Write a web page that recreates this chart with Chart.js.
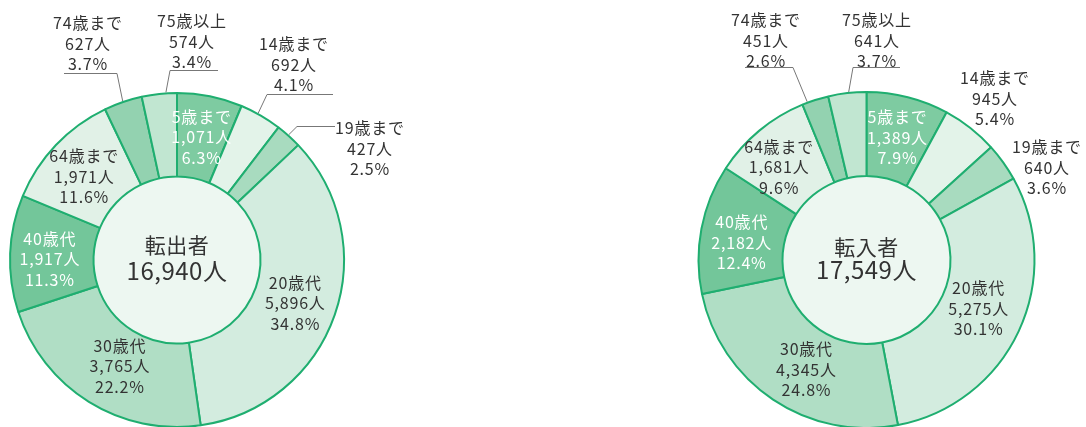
<!DOCTYPE html>
<html><head><meta charset="utf-8">
<script src="https://cdn.jsdelivr.net/npm/chart.js@4/dist/chart.umd.min.js"></script>
<style>
html,body{margin:0;padding:0;background:#fff;}
#wrap{position:relative;width:1086px;height:427px;overflow:hidden;}
canvas{position:absolute;left:0;top:0;}
</style></head><body>
<div id="wrap"><canvas id="c1" width="1086" height="427"></canvas><canvas id="c2" width="1086" height="427"></canvas></div>
<script>
const categories = ['5歳まで','14歳まで','19歳まで','20歳代','30歳代','40歳代','64歳まで','74歳まで','75歳以上'];
const outValues = [1071, 692, 427, 5896, 3765, 1917, 1971, 627, 574];
const outPercents = [6.3, 4.1, 2.5, 34.8, 22.2, 11.3, 11.6, 3.7, 3.4];
const outTitle = '転出者';
const inValues = [1389, 945, 640, 5275, 4345, 2182, 1681, 451, 641];
const inPercents = [7.9, 5.4, 3.6, 30.1, 24.8, 12.4, 9.6, 2.6, 3.7];
const inTitle = '転入者';
const unit = '人';

const colors = ['#7ecba1','#e3f3e9','#a8dbbf','#d3ecdf','#b0dec5','#73c69a','#e1f1e7','#93d2b0','#c1e6d1'];
const whiteText = [true,false,false,false,false,true,false,false,false];
const FONT = "'Noto Sans CJK JP','Noto Sans',sans-serif";
const BORDER = '#1fae70';

// label placement (annotation layout, page coordinates)
const outLayout = {
  outside: {
    7: {x: 88, y: 23, ul: [64, 117, 73], from: 1, t: 0.5},
    8: {x: 192, y: 21, ul: [170, 218, 70], from: 0, t: 0.69},
    1: {x: 294, y: 44, ul: [267, 333, 94], from: 0, t: 0.42},
    2: {x: 370, y: 128, ul: [297, 335, 126], from: 0, t: 0.47}
  },
  nudge: {4: [9, 0], 5: [-2, 4], 6: [-2, 3], 3: [0, 2]},
  titleDy: [-15, 11]
};
const inLayout = {
  outside: {
    7: {x: 766, y: 20, ul: [745, 793, 67], from: 1, t: 0.2},
    8: {x: 877, y: 20, ul: [853, 900, 67], from: 0, t: 0.54},
    1: {x: 995, y: 78},
    2: {x: 1047, y: 147}
  },
  nudge: {4: [10, 5], 5: [-1, 6], 6: [-7, 4], 3: [-2, -5]},
  titleDy: [-13, 10]
};

const fmt = v => v.toLocaleString('en-US');

function labelPlugin(values, percents, title, layout) {
  return {
    id: 'lbl',
    beforeDatasetsDraw(chart) {
      const a = chart.getDatasetMeta(0).data[0];
      const ctx = chart.ctx;
      ctx.save();
      ctx.beginPath();
      ctx.arc(a.x, a.y, a.innerRadius, 0, Math.PI * 2);
      ctx.fillStyle = '#edf7f1';
      ctx.fill();
      ctx.restore();
    },
    afterDatasetsDraw(chart) {
      const ctx = chart.ctx;
      const arcs = chart.getDatasetMeta(0).data;
      const lh = 20.5;
      ctx.save();
      ctx.textAlign = 'center';
      ctx.textBaseline = 'middle';
      ctx.font = '16px ' + FONT;
      if ('letterSpacing' in ctx) ctx.letterSpacing = '0.8px';
      arcs.forEach((arc, i) => {
        const lines = [categories[i], fmt(values[i]) + unit, percents[i].toFixed(1) + '%'];
        const o = layout.outside[i];
        let x, y;
        if (o) {
          x = o.x; y = o.y;
          ctx.fillStyle = '#333';
          if (o.ul) {
            ctx.strokeStyle = '#777';
            ctx.lineWidth = 1;
            const ang = arc.startAngle + o.t * (arc.endAngle - arc.startAngle);
            const r = arc.outerRadius + 1;
            const px = arc.x + r * Math.cos(ang), py = arc.y + r * Math.sin(ang);
            ctx.beginPath();
            ctx.moveTo(o.ul[0], o.ul[2] + 0.5);
            ctx.lineTo(o.ul[1], o.ul[2] + 0.5);
            ctx.moveTo(o.ul[o.from], o.ul[2] + 0.5);
            ctx.lineTo(px, py);
            ctx.stroke();
          }
        } else {
          const p = arc.tooltipPosition();
          const n = layout.nudge[i] || [0, 0];
          x = p.x + n[0];
          y = p.y + n[1] - lh;
          ctx.fillStyle = whiteText[i] ? '#ffffff' : '#333';
        }
        lines.forEach((s, k) => ctx.fillText(s, x, y + k * lh));
      });
      // center text
      const a = arcs[0];
      const total = values.reduce((s, v) => s + v, 0);
      if ('letterSpacing' in ctx) ctx.letterSpacing = '0.5px';
      ctx.fillStyle = '#333';
      ctx.font = '21px ' + FONT;
      ctx.fillText(title, a.x, a.y + layout.titleDy[0]);
      ctx.font = '24px ' + FONT;
      ctx.fillText(fmt(total) + unit, a.x, a.y + layout.titleDy[1]);
      ctx.restore();
    }
  };
}

function makeChart(id, values, percents, title, layout, pad, radius) {
  return new Chart(document.getElementById(id), {
    type: 'doughnut',
    data: {
      labels: categories,
      datasets: [{
        data: values,
        backgroundColor: colors,
        borderColor: BORDER,
        borderWidth: 2,
        hoverOffset: 0
      }]
    },
    options: {
      responsive: false,
      animation: false,
      events: [],
      radius: radius,
      cutout: '50%',
      layout: {padding: pad},
      plugins: {legend: {display: false}, tooltip: {enabled: false}}
    },
    plugins: [labelPlugin(values, percents, title, layout)]
  });
}

makeChart('c1', outValues, outPercents, outTitle, outLayout, {left: 10, right: 742, top: 93, bottom: 0}, 167);
makeChart('c2', inValues, inPercents, inTitle, inLayout, {left: 699.5, right: 52.5, top: 93, bottom: 0}, 168);
</script>
</body></html>
